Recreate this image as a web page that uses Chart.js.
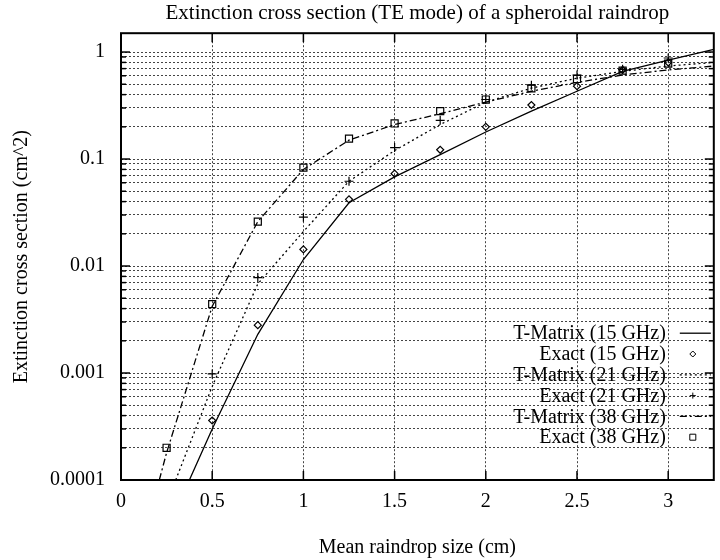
<!DOCTYPE html>
<html><head><meta charset="utf-8">
<script src="https://cdn.jsdelivr.net/npm/chart.js@4/dist/chart.umd.min.js"></script>
<style>html,body{margin:0;padding:0;background:#fff}canvas{display:block}</style>
</head><body>
<canvas id="c" width="720" height="560"></canvas>
<script>
// ---- data ----
const chartTitle = 'Extinction cross section (TE mode) of a spheroidal raindrop';
const xTitle = 'Mean raindrop size (cm)';
const yTitle = 'Extinction cross section (cm^2)';

const tmX15 = [0.375, 0.5, 0.75, 1.0, 1.25, 1.5, 1.75, 2.0, 2.25, 2.5, 2.75, 3.0, 3.25];
const tm15  = [0.0001, 0.0003, 0.0023, 0.0115, 0.039, 0.068, 0.11, 0.179, 0.28, 0.43, 0.66, 0.84, 1.06];

const tmX21 = [0.30, 0.5, 0.75, 1.0, 1.25, 1.5, 1.75, 2.0, 2.25, 2.5, 2.75, 3.0, 3.25];
const tm21  = [0.0001, 0.00075, 0.0068, 0.021, 0.062, 0.12, 0.21, 0.34, 0.46, 0.57, 0.66, 0.74, 0.80];

const tmX38 = [0.21, 0.25, 0.5, 0.75, 1.0, 1.25, 1.5, 1.75, 2.0, 2.25, 2.5, 2.75, 3.0, 3.25];
const tm38  = [0.0001, 0.00018, 0.0042, 0.026, 0.08, 0.15, 0.21, 0.265, 0.34, 0.43, 0.52, 0.61, 0.68, 0.74];

const exX15 = [0.5, 0.75, 1.0, 1.25, 1.5, 1.75, 2.0, 2.25, 2.5, 2.75, 3.0];
const ex15  = [0.00036, 0.0028, 0.0143, 0.042, 0.073, 0.122, 0.2, 0.32, 0.48, 0.68, 0.8];

const exX21 = [0.5, 0.75, 1.0, 1.25, 1.5, 1.75, 2.0, 2.25, 2.5, 2.75, 3.0];
const ex21  = [0.00098, 0.0078, 0.0286, 0.062, 0.128, 0.23, 0.36, 0.49, 0.61, 0.69, 0.88];

const exX38 = [0.25, 0.5, 0.75, 1.0, 1.25, 1.5, 1.75, 2.0, 2.25, 2.5, 2.75, 3.0];
const ex38  = [0.0002, 0.0044, 0.026, 0.083, 0.155, 0.215, 0.28, 0.36, 0.457, 0.56, 0.67, 0.78];

const seriesLabels = ['T-Matrix (15 GHz)', 'Exact (15 GHz)', 'T-Matrix (21 GHz)', 'Exact (21 GHz)', 'T-Matrix (38 GHz)', 'Exact (38 GHz)'];

const xTickValues = [0, 0.5, 1, 1.5, 2, 2.5, 3];
const xTickLabels = ['0', '0.5', '1', '1.5', '2', '2.5', '3'];
const yMajorValues = [0.0001, 0.001, 0.01, 0.1, 1];
const yMajorLabels = ['0.0001', '0.001', '0.01', '0.1', '1'];
const yMin = 0.0001, yMax = 1.5, xMin = 0, xMax = 3.25;

// ---- chart ----
const pts = (xs, ys) => xs.map((x, i) => ({x: x, y: ys[i]}));
const FONT = '"Liberation Serif", "Times New Roman", serif';
Chart.defaults.font.family = FONT;
Chart.defaults.color = '#000';

const dashes = {solid: [], dotted: [2, 3], dashdot: [7, 3, 2, 3]};

const lineDs = (label, xs, ys, dash) => ({
  label, data: pts(xs, ys), showLine: true, borderColor: '#000', borderWidth: 1.3,
  borderDash: dash, pointRadius: 0, pointHoverRadius: 0, tension: 0, fill: false
});
const markDs = (label, xs, ys, style, r) => ({
  label, data: pts(xs, ys), showLine: false, borderColor: '#000', borderWidth: 1.2,
  backgroundColor: 'rgba(0,0,0,0)', pointStyle: style, pointRadius: r, pointBorderWidth: 1.2
});

const datasets = [
  lineDs(seriesLabels[0], tmX15, tm15, dashes.solid),
  markDs(seriesLabels[1], exX15, ex15, 'rectRot', 3.5),
  lineDs(seriesLabels[2], tmX21, tm21, dashes.dotted),
  markDs(seriesLabels[3], exX21, ex21, 'cross', 4.5),
  lineDs(seriesLabels[4], tmX38, tm38, dashes.dashdot),
  markDs(seriesLabels[5], exX38, ex38, 'rect', 5),
];

const isMajor = v => yMajorValues.some(m => Math.abs(v - m) / m < 1e-6);

const decor = {
  id: 'decor',
  afterDraw(chart) {
    const {ctx, chartArea: a, scales: {x, y}} = chart;
    const line = (x1, y1, x2, y2) => { ctx.beginPath(); ctx.moveTo(x1, y1); ctx.lineTo(x2, y2); ctx.stroke(); };
    ctx.save();
    ctx.strokeStyle = '#000'; ctx.setLineDash([]); ctx.lineWidth = 1.5;
    y.ticks.forEach(t => {
      const py = y.getPixelForValue(t.value);
      const L = isMajor(t.value) ? 9 : 5;
      line(a.left, py, a.left + L, py);
      line(a.right, py, a.right - L, py);
    });
    x.ticks.forEach(t => {
      const px = x.getPixelForValue(t.value);
      line(px, a.bottom, px, a.bottom - 9);
      line(px, a.top, px, a.top + 9);
    });
    ctx.lineWidth = 2;
    ctx.strokeRect(a.left, a.top, a.right - a.left, a.bottom - a.top);

    // legend (inside the plot, bottom right)
    ctx.font = '20px ' + FONT;
    ctx.fillStyle = '#000';
    ctx.textAlign = 'right';
    ctx.textBaseline = 'middle';
    const tx = a.right - 48, y0 = a.top + 300, dy = 20.8;
    const sx = a.right - 21;
    chart.data.datasets.forEach((ds, i) => {
      const ly = y0 + i * dy;
      ctx.fillText(ds.label, tx, ly + 1);
      ctx.lineWidth = 1.3;
      if (ds.showLine) {
        ctx.setLineDash(ds.borderDash || []);
        line(a.right - 34, ly, a.right - 3, ly);
        ctx.setLineDash([]);
      } else {
        ctx.lineWidth = 1;
        ctx.beginPath();
        if (ds.pointStyle === 'rectRot') {
          ctx.moveTo(sx, ly - 3); ctx.lineTo(sx + 3, ly); ctx.lineTo(sx, ly + 3); ctx.lineTo(sx - 3, ly); ctx.closePath();
        } else if (ds.pointStyle === 'cross') {
          ctx.moveTo(sx - 3, ly); ctx.lineTo(sx + 3, ly); ctx.moveTo(sx, ly - 3); ctx.lineTo(sx, ly + 3);
        } else {
          ctx.rect(sx - 3, ly - 3, 6, 6);
        }
        ctx.stroke();
      }
    });
    ctx.restore();
  }
};

new Chart(document.getElementById('c'), {
  type: 'line',
  data: {datasets},
  plugins: [decor],
  options: {
    responsive: false, animation: false, devicePixelRatio: 1,
    layout: {padding: {left: 0, right: 2, top: 0, bottom: 0}},
    plugins: {
      legend: {display: false},
      tooltip: {enabled: false},
      title: {display: true, fullSize: false, text: chartTitle, font: {size: 21, weight: 'normal', family: FONT},
              color: '#000', padding: {top: 1, bottom: 7}}
    },
    scales: {
      x: {
        type: 'linear', min: xMin, max: xMax,
        afterBuildTicks: s => { s.ticks = xTickValues.map(v => ({value: v})); },
        afterFit: s => { s.height = 80; },
        ticks: {autoSkip: false, maxRotation: 0, padding: 10, font: {size: 20},
                callback: v => { const i = xTickValues.findIndex(t => Math.abs(t - v) < 1e-9); return i >= 0 ? xTickLabels[i] : ''; }},
        grid: {color: '#444', lineWidth: 1, drawTicks: false},
        border: {display: false, dash: [2, 2]},
        title: {display: true, text: xTitle, font: {size: 20}, padding: {top: 0, bottom: 0}}
      },
      y: {
        type: 'logarithmic', min: yMin, max: yMax,
        afterBuildTicks: s => {
          const t = [];
          for (let e = -4; e <= 0; e++) for (let m = 1; m <= 9; m++) {
            const v = m * Math.pow(10, e);
            if (v <= yMax + 1e-12) t.push({value: v});
          }
          s.ticks = t;
        },
        afterFit: s => { s.width = 121; },
        ticks: {autoSkip: false, padding: 16, font: {size: 20},
                callback: v => { const i = yMajorValues.findIndex(m => Math.abs(v - m) / m < 1e-6); return i >= 0 ? yMajorLabels[i] : ''; }},
        grid: {color: '#444', lineWidth: 1, drawTicks: false},
        border: {display: false, dash: [2, 2]},
        title: {display: true, text: yTitle, font: {size: 20}, padding: {top: 10, bottom: 0}}
      }
    }
  }
});
</script>
</body></html>
